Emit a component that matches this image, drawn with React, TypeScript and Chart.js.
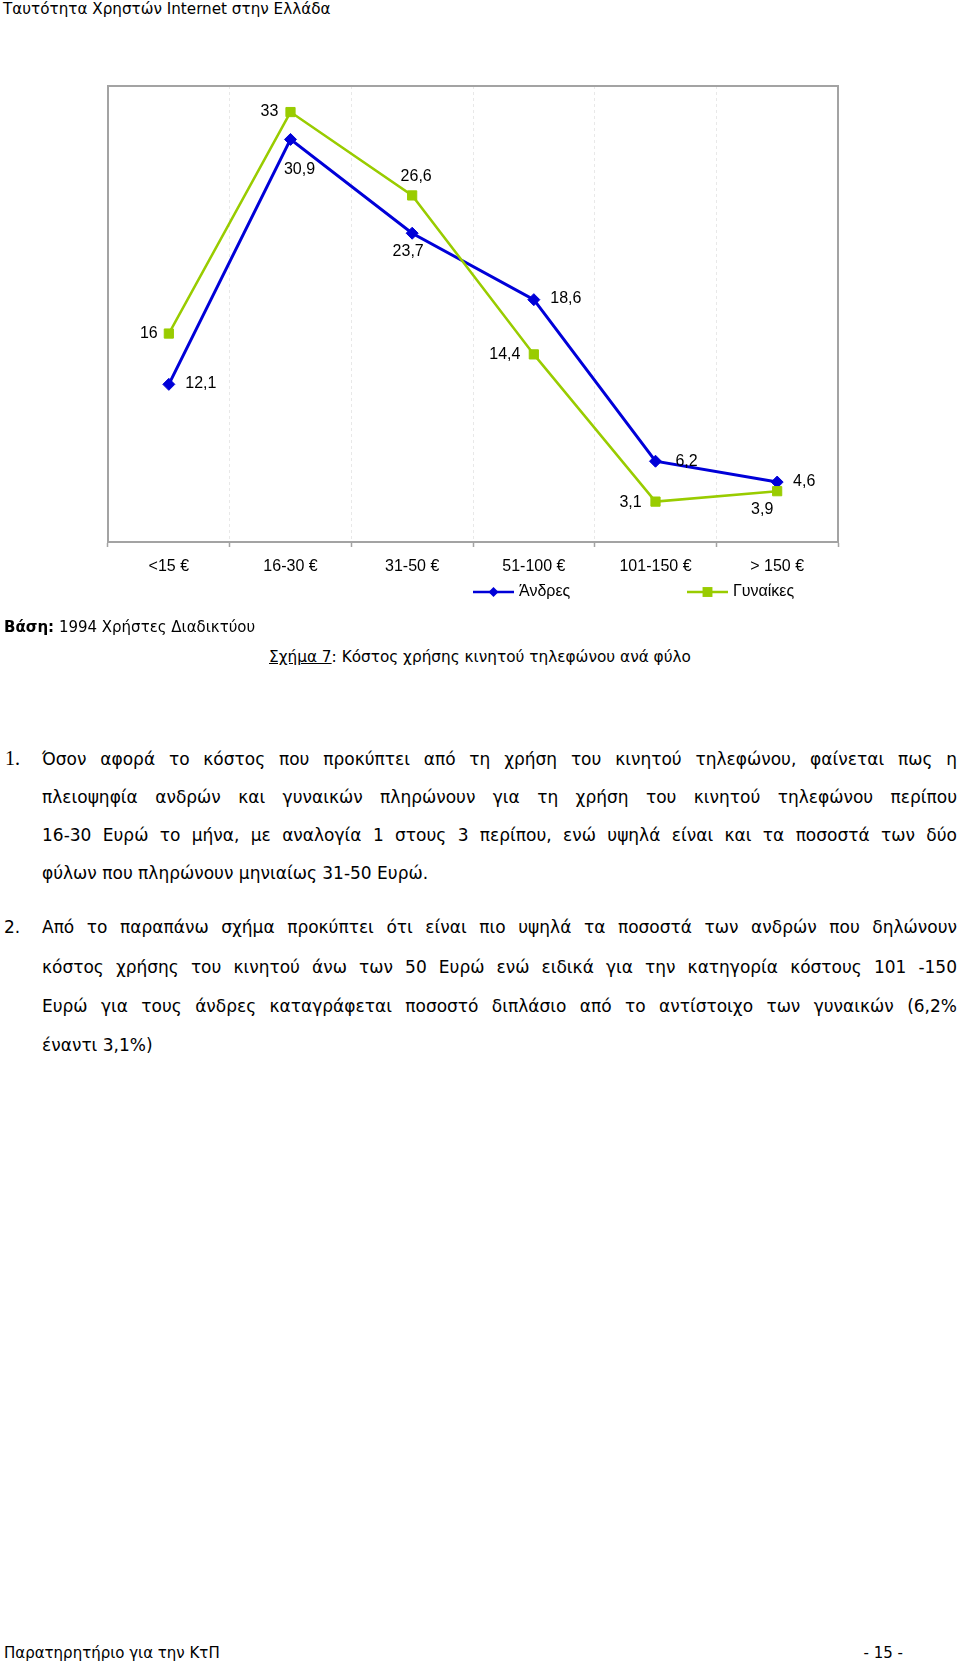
import React, { useEffect, useRef } from 'react';
import { Chart, registerables } from 'chart.js';

Chart.register(...registerables);

// ---- chart data ----
const categories = ['<15 €', '16-30 €', '31-50 €', '51-100 €', '101-150 €', '> 150 €'];
const seriesNames = ['Άνδρες', 'Γυναίκες'];
const menValues = [12.1, 30.9, 23.7, 18.6, 6.2, 4.6];
const womenValues = [16, 33, 26.6, 14.4, 3.1, 3.9];
const yMin = 0;
const yMax = 35;

// ---- label placement (style: offsets of label centre from its point, px) ----
const menLabelOffsets = [[32, -1], [9, 30], [-4, 18], [32, -1], [31, 0], [27, 0]];
const womenLabelOffsets = [[-20, 0], [-21, 0], [4, -19], [-29, 0], [-25, 1], [-15, 18]];

// ---- page text ----
const pageTitle = 'Ταυτότητα Χρηστών Internet στην Ελλάδα';
const baseLabel = 'Βάση:';
const baseText = ' 1994 Χρήστες Διαδικτύου';
const captionHead = 'Σχήμα 7';
const captionTail = ': Κόστος χρήσης κινητού τηλεφώνου ανά φύλο';
const para1 = [
  'Όσον αφορά το κόστος που προκύπτει από τη χρήση του κινητού τηλεφώνου, φαίνεται πως η',
  'πλειοψηφία ανδρών και γυναικών πληρώνουν για τη χρήση του κινητού τηλεφώνου περίπου',
  '16-30 Ευρώ το μήνα, με αναλογία 1 στους 3 περίπου, ενώ υψηλά είναι και τα ποσοστά των δύο',
  'φύλων που πληρώνουν μηνιαίως 31-50 Ευρώ.',
];
const para2 = [
  'Από το παραπάνω σχήμα προκύπτει ότι είναι πιο υψηλά τα ποσοστά των ανδρών που δηλώνουν',
  'κόστος χρήσης του κινητού άνω των 50 Ευρώ ενώ ειδικά για την κατηγορία κόστους 101 -150',
  'Ευρώ για τους άνδρες καταγράφεται ποσοστό διπλάσιο από το αντίστοιχο των γυναικών (6,2%',
  'έναντι 3,1%)',
];
const para1Centers = [759, 797, 835, 873];
const para2Centers = [927, 967, 1006, 1045];
const footerLeft = 'Παρατηρητήριο για την ΚτΠ';
const footerRight = '- 15 -';

const BLUE = '#0000d8';
const GREEN = '#99cc00';
const LABEL_FONT = '16px "Liberation Sans", Arial, sans-serif';
const SANS = '"DejaVu Sans", Verdana, sans-serif';

const framePlugin = {
  id: 'frame',
  beforeDatasetsDraw(chart: any) {
    const { ctx, chartArea: a } = chart;
    ctx.save();
    ctx.strokeStyle = '#a3a3a3';
    ctx.lineWidth = 2;
    ctx.strokeRect(a.left, a.top, a.right - a.left, a.bottom - a.top);
    ctx.restore();
  },
};

const valueLabelPlugin = {
  id: 'valueLabels',
  afterDatasetsDraw(chart: any) {
    const ctx = chart.ctx;
    const offsets = [menLabelOffsets, womenLabelOffsets];
    ctx.save();
    ctx.font = LABEL_FONT;
    ctx.fillStyle = '#000';
    ctx.textAlign = 'center';
    ctx.textBaseline = 'middle';
    chart.data.datasets.forEach((ds: any, i: number) => {
      const meta = chart.getDatasetMeta(i);
      meta.data.forEach((pt: any, j: number) => {
        const v = ds.data[j];
        const [dx, dy] = offsets[i][j];
        ctx.fillText(String(v).replace('.', ','), pt.x + dx, pt.y + dy);
      });
    });
    ctx.restore();
  },
};

const legendPlugin = {
  id: 'customLegend',
  afterDraw(chart: any) {
    const { ctx, chartArea: a } = chart;
    const y = a.bottom + 50;
    const items = [
      { x: a.left + 365, color: BLUE, style: 'rectRot', r: 5, name: seriesNames[0] },
      { x: a.left + 579, color: GREEN, style: 'rect', r: 7, name: seriesNames[1] },
    ];
    ctx.save();
    items.forEach((it) => {
      ctx.strokeStyle = it.color;
      ctx.lineWidth = 2.5;
      ctx.beginPath();
      ctx.moveTo(it.x, y);
      ctx.lineTo(it.x + 41, y);
      ctx.stroke();
      ctx.fillStyle = it.color;
      ctx.beginPath();
      const cx = it.x + 20.5;
      if (it.style === 'rectRot') {
        ctx.moveTo(cx - it.r, y);
        ctx.lineTo(cx, y - it.r);
        ctx.lineTo(cx + it.r, y);
        ctx.lineTo(cx, y + it.r);
        ctx.closePath();
      } else {
        const s = it.r * Math.SQRT1_2;
        ctx.rect(cx - s, y - s, 2 * s, 2 * s);
      }
      ctx.fill();
      ctx.fillStyle = '#000';
      ctx.font = LABEL_FONT;
      ctx.textAlign = 'left';
      ctx.textBaseline = 'middle';
      ctx.fillText(it.name, it.x + 46, y);
    });
    ctx.restore();
  },
};

function BodyLine({ text, center, last }: { text: string; center: number; last: boolean }) {
  return (
    <div
      style={{
        position: 'absolute',
        left: 42,
        width: 915,
        top: center - 12,
        height: 24,
        lineHeight: '24px',
        fontSize: 17,
        fontFamily: SANS,
        color: '#000',
        textAlign: last ? 'left' : 'justify',
        textAlignLast: last ? 'left' : 'justify',
      } as React.CSSProperties}
    >
      {text}
    </div>
  );
}

export default function App() {
  const canvasRef = useRef<HTMLCanvasElement>(null);

  useEffect(() => {
    const canvas = canvasRef.current;
    if (!canvas) return;
    const chart = new Chart(canvas, {
      type: 'line',
      data: {
        labels: categories,
        datasets: [
          {
            label: seriesNames[0],
            data: menValues,
            borderColor: BLUE,
            backgroundColor: BLUE,
            borderWidth: 3,
            pointStyle: 'rectRot',
            pointRadius: 6,
            pointBorderWidth: 1,
            pointBorderColor: BLUE,
            pointBackgroundColor: BLUE,
            tension: 0,
            order: 1,
          },
          {
            label: seriesNames[1],
            data: womenValues,
            borderColor: GREEN,
            backgroundColor: GREEN,
            borderWidth: 2.5,
            pointStyle: 'rect',
            pointRadius: 6.5,
            pointBorderWidth: 1,
            pointBorderColor: GREEN,
            pointBackgroundColor: GREEN,
            tension: 0,
            order: 0,
          },
        ],
      },
      options: {
        animation: false,
        responsive: false,
        maintainAspectRatio: false,
        layout: { padding: { left: 108, right: 122, top: 26, bottom: 33.8 } },
        plugins: { legend: { display: false }, tooltip: { enabled: false } },
        scales: {
          x: {
            offset: true,
            grid: {
              offset: true,
              color: '#e8e8e8',
              lineWidth: 1,
              tickColor: '#a3a3a3',
              tickLength: 5,
              tickWidth: 1.5,
            },
            border: { display: true, color: '#a3a3a3', width: 2, dash: [3, 3] },
            ticks: {
              font: { family: '"Liberation Sans", Arial, sans-serif', size: 16 },
              color: '#000',
              padding: 10,
              autoSkip: false,
              maxRotation: 0,
            },
          },
          y: { display: false, min: yMin, max: yMax },
        },
      },
      plugins: [framePlugin, valueLabelPlugin, legendPlugin],
    } as any);
    return () => chart.destroy();
  }, []);

  return (
    <div
      style={{
        position: 'absolute',
        left: 0,
        top: 0,
        width: 960,
        height: 1666,
        background: '#fff',
        fontFamily: SANS,
        color: '#000',
        overflow: 'hidden',
      }}
    >
      <div style={{ position: 'absolute', left: 3, top: 0, fontSize: 15.2, lineHeight: '18px', whiteSpace: 'nowrap' }}>
        {pageTitle}
      </div>

      <canvas
        ref={canvasRef}
        width={960}
        height={560}
        style={{ position: 'absolute', left: 0, top: 60, width: 960, height: 560 }}
      />

      <div style={{ position: 'absolute', left: 4, top: 617, fontSize: 15, lineHeight: '20px', whiteSpace: 'nowrap' }}>
        <b>{baseLabel}</b>
        {baseText}
      </div>

      <div
        style={{
          position: 'absolute',
          left: 0,
          width: 960,
          top: 647,
          fontSize: 15.3,
          lineHeight: '20px',
          textAlign: 'center',
          whiteSpace: 'nowrap',
        }}
      >
        <span style={{ textDecoration: 'underline' }}>{captionHead}</span>
        {captionTail}
      </div>

      <div
        style={{
          position: 'absolute',
          left: 5,
          top: para1Centers[0] - 13,
          fontSize: 20,
          lineHeight: '24px',
          fontFamily: '"Liberation Serif", "Times New Roman", serif',
        }}
      >
        1.
      </div>
      {para1.map((t, i) => (
        <BodyLine key={'p1' + i} text={t} center={para1Centers[i]} last={i === para1.length - 1} />
      ))}

      <div style={{ position: 'absolute', left: 4, top: para2Centers[0] - 12, fontSize: 17, lineHeight: '24px' }}>2.</div>
      {para2.map((t, i) => (
        <BodyLine key={'p2' + i} text={t} center={para2Centers[i]} last={i === para2.length - 1} />
      ))}

      <div style={{ position: 'absolute', left: 4, top: 1643, fontSize: 15, lineHeight: '20px', whiteSpace: 'nowrap' }}>
        {footerLeft}
      </div>
      <div style={{ position: 'absolute', right: 57, top: 1643, fontSize: 15, lineHeight: '20px', whiteSpace: 'nowrap' }}>
        {footerRight}
      </div>
    </div>
  );
}
